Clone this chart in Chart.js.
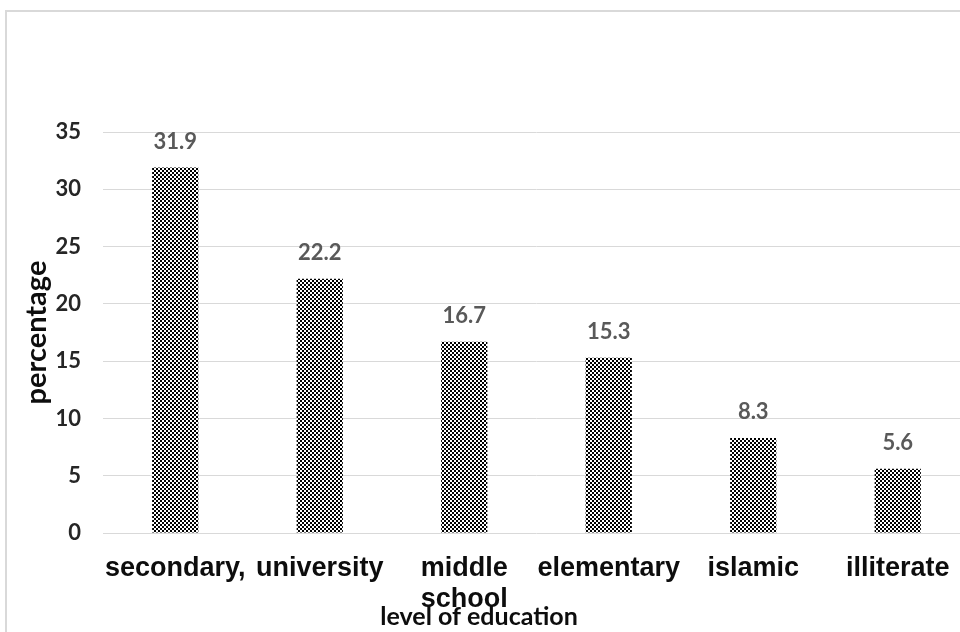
<!DOCTYPE html>
<html>
<head>
<meta charset="utf-8">
<script src="https://cdn.jsdelivr.net/npm/chart.js@4.4.1/dist/chart.umd.min.js"></script>
<style>
  html, body { margin: 0; padding: 0; background: #ffffff; overflow: hidden; width: 960px; height: 632px; }
  #frame { position: absolute; left: 5px; top: 10px; width: 1000px; height: 700px;
           border-top: 2px solid #d9d9d9; border-left: 2px solid #d9d9d9; box-sizing: border-box; }
  #wrap { position: absolute; left: 0; top: 0; }
</style>
</head>
<body>
<div id="frame"></div>
<div id="wrap"><canvas id="chart" width="980" height="632"></canvas></div>
<script>
// Share of respondents by level of education
const categories = ['secondary,', 'university', ['middle', 'school'], 'elementary', 'islamic', 'illiterate'];
const percentages = [31.9, 22.2, 16.7, 15.3, 8.3, 5.6];
const yTicks = [0, 5, 10, 15, 20, 25, 30, 35];

// Fine black/white checkerboard fill for the bars
function checkerPattern() {
  const c = document.createElement('canvas');
  c.width = 4; c.height = 4;
  const g = c.getContext('2d');
  g.fillStyle = '#ffffff';
  g.fillRect(0, 0, 4, 4);
  g.fillStyle = '#000000';
  g.fillRect(0, 0, 2, 2);
  g.fillRect(2, 2, 2, 2);
  return g.createPattern(c, 'repeat');
}

// Value labels above each bar
const valueLabels = {
  id: 'valueLabels',
  afterDatasetsDraw(chart) {
    const ctx = chart.ctx;
    const meta = chart.getDatasetMeta(0);
    ctx.save();
    ctx.font = 'bold 22px Lato, "Open Sans", sans-serif';
    ctx.fillStyle = '#595959';
    ctx.textAlign = 'center';
    ctx.textBaseline = 'middle';
    meta.data.forEach((bar, i) => {
      ctx.fillText(percentages[i].toFixed(1), bar.x, bar.y - 26);
    });
    ctx.restore();
  }
};

// Horizontal axis caption, centred on the page
const xCaption = {
  id: 'xCaption',
  afterDraw(chart) {
    const ctx = chart.ctx;
    ctx.save();
    ctx.font = 'bold 25px Lato, "Open Sans", sans-serif';
    ctx.fillStyle = '#0d0d0d';
    ctx.textAlign = 'center';
    ctx.textBaseline = 'middle';
    ctx.fillText('level of education', 479, 617);
    ctx.restore();
  }
};

new Chart(document.getElementById('chart'), {
  type: 'bar',
  data: {
    labels: categories,
    datasets: [{
      data: percentages,
      backgroundColor: checkerPattern(),
      borderWidth: 0,
      barPercentage: 0.64,
      categoryPercentage: 0.5
    }]
  },
  options: {
    responsive: false,
    animation: false,
    devicePixelRatio: 1,
    layout: { padding: { top: 132, right: 10, bottom: 0, left: 0 } },
    plugins: { legend: { display: false }, tooltip: { enabled: false } },
    scales: {
      x: {
        grid: { display: false, drawTicks: false },
        border: { display: false },
        ticks: {
          color: '#0d0d0d',
          font: { family: '"Liberation Sans", Arial, sans-serif', size: 27, weight: 'bold', lineHeight: 1.15 },
          padding: 20,
          maxRotation: 0,
          autoSkip: false
        },
        afterFit(axis) { axis.height = 99; }
      },
      y: {
        min: 0,
        max: 35,
        afterBuildTicks(axis) { axis.ticks = yTicks.map(v => ({ value: v })); },
        grid: { color: '#d9d9d9', lineWidth: 1, drawTicks: false },
        border: { display: false },
        ticks: {
          color: '#262626',
          font: { family: 'Lato, "Open Sans", sans-serif', size: 22, weight: 'bold' },
          padding: 22
        },
        title: {
          display: true,
          text: 'percentage',
          color: '#0d0d0d',
          font: { family: 'Lato, "Open Sans", sans-serif', size: 29, weight: 'bold', lineHeight: 1.2 },
          padding: { top: 19, bottom: 0 }
        },
        afterFit(axis) { axis.width = 103; }
      }
    }
  },
  plugins: [valueLabels, xCaption]
});
</script>
</body>
</html>
